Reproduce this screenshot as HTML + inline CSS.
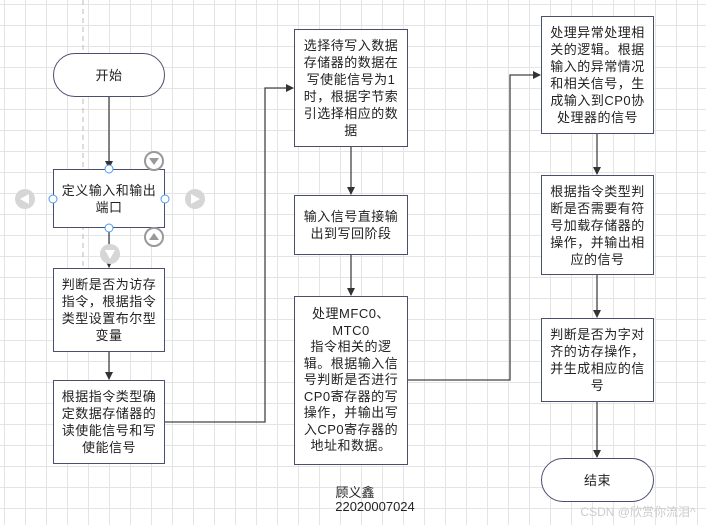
<!DOCTYPE html>
<html><head><meta charset="utf-8"><style>
body{margin:0;width:706px;height:525px;overflow:hidden;background:#fff;position:relative;font-family:"Liberation Sans","Noto Sans CJK SC",sans-serif;color:#222}
.grid{position:absolute;left:0;top:0;width:706px;height:525px;
background-image:linear-gradient(to right,#e4e4e4 1px,transparent 1px),linear-gradient(to bottom,#e4e4e4 1px,transparent 1px);
background-size:21px 21px;background-position:4px 4px}
.b{position:absolute;box-sizing:border-box;border:1.3px solid #4a4f6e;background:#fff;display:flex;align-items:center;justify-content:center;text-align:center;font-size:13px;line-height:17px;padding:0;letter-spacing:0.5px;white-space:nowrap}
.s{border-radius:22px}
.t{position:absolute;font-size:13px;text-align:center}
</style></head><body>
<div class="grid"></div>
<svg style="position:absolute;left:0;top:0" width="706" height="525">
<line x1="83" y1="0" x2="83" y2="270" stroke="#bbb" stroke-dasharray="5,4"/>
<defs><marker id="a" markerWidth="8" markerHeight="8" refX="7" refY="4" orient="auto" markerUnits="userSpaceOnUse"><path d="M0,0 L8,4 L0,8z" fill="#333"/></marker></defs>
<g stroke="#444" stroke-width="1.3" fill="none">
<line x1="109" y1="96" x2="109" y2="168" marker-end="url(#a)"/>
<line x1="109" y1="228" x2="109" y2="267" marker-end="url(#a)"/>
<line x1="109" y1="351" x2="109" y2="379" marker-end="url(#a)"/>
<polyline points="165,422 265,422 265,88 293,88" marker-end="url(#a)"/>
<line x1="351" y1="146" x2="351" y2="194" marker-end="url(#a)"/>
<line x1="351" y1="254" x2="351" y2="295" marker-end="url(#a)"/>
<polyline points="407,380 510,380 510,75 540,75" marker-end="url(#a)"/>
<line x1="597" y1="134" x2="597" y2="174" marker-end="url(#a)"/>
<line x1="597" y1="274" x2="597" y2="317" marker-end="url(#a)"/>
<line x1="597" y1="401" x2="597" y2="457" marker-end="url(#a)"/>
</g>
</svg>
<div class="b s" style="left:53px;top:53px;width:112px;height:44px">开始</div>
<div class="b" style="left:53px;top:169px;width:112px;height:59px">定义输入和输出<br>端口</div>
<div class="b" style="left:53px;top:268px;width:112px;height:84px">判断是否为访存<br>指令，根据指令<br>类型设置布尔型<br>变量</div>
<div class="b" style="left:53px;top:380px;width:112px;height:84px">根据指令类型确<br>定数据存储器的<br>读使能信号和写<br>使能信号</div>
<div class="b" style="left:294px;top:29px;width:114px;height:118px">选择待写入数据<br>存储器的数据在<br>写使能信号为1<br>时，根据字节索<br>引选择相应的数<br>据</div>
<div class="b" style="left:294px;top:195px;width:114px;height:60px">输入信号直接输<br>出到写回阶段</div>
<div class="b" style="left:294px;top:296px;width:114px;height:169px;line-height:16.5px">处理MFC0、<br>MTC0<br>指令相关的逻<br>辑。根据输入信<br>号判断是否进行<br>CP0寄存器的写<br>操作，并输出写<br>入CP0寄存器的<br>地址和数据。</div>
<div class="b" style="left:541px;top:16px;width:113px;height:118px">处理异常处理相<br>关的逻辑。根据<br>输入的异常情况<br>和相关信号，生<br>成输入到CP0协<br>处理器的信号</div>
<div class="b" style="left:541px;top:175px;width:113px;height:100px">根据指令类型判<br>断是否需要有符<br>号加载存储器的<br>操作，并输出相<br>应的信号</div>
<div class="b" style="left:541px;top:318px;width:113px;height:84px">判断是否为字对<br>齐的访存操作，<br>并生成相应的信<br>号</div>
<div class="b s" style="left:541px;top:458px;width:113px;height:44px">结束</div>
<svg style="position:absolute;left:0;top:0" width="706" height="525">
<g fill="#fff" stroke="#4a9cf0" stroke-width="1">
<circle cx="109" cy="169" r="4"/><circle cx="109" cy="228" r="4"/><circle cx="53" cy="199" r="4"/><circle cx="165" cy="199" r="4"/></g>
<g fill="#d6d6d6"><circle cx="25" cy="199" r="10"/><circle cx="195" cy="199" r="10"/><circle cx="110" cy="254" r="10"/></g>
<g fill="#fff"><path d="M20,199 L29,194 L29,204z"/><path d="M200,199 L191,194 L191,204z"/><path d="M105,250 L115,250 L110,259z"/></g>
<g stroke="#999" stroke-width="2" fill="#fff"><circle cx="154" cy="161" r="9"/><circle cx="154" cy="237" r="9"/></g>
<g fill="#999"><path d="M149,158 L159,158 L154,165z"/><path d="M149,240 L159,240 L154,233z"/></g>
</svg>
<div class="t" style="left:330px;top:482px;width:50px">顾义鑫</div>
<div class="t" style="left:325px;top:499px;width:100px">22020007024</div>
<div class="t" style="left:570px;top:503px;width:136px;color:#ccc;font-size:12px">CSDN @欣赏你流泪^</div>
</body></html>
